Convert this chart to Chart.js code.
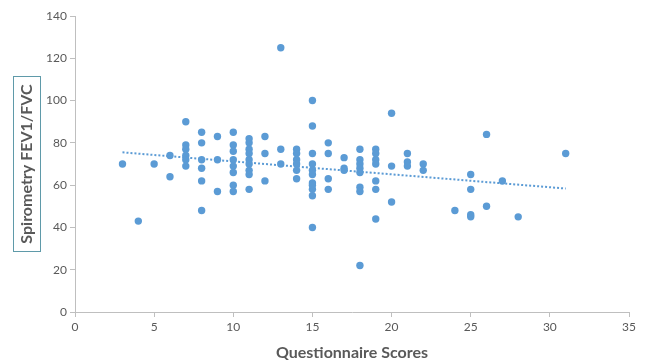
<!DOCTYPE html>
<html>
<head>
<meta charset="utf-8">
<script src="https://cdn.jsdelivr.net/npm/chart.js@4/dist/chart.umd.min.js"></script>
<style>
html,body{margin:0;padding:0;background:#fff;}
#wrap{width:645px;height:363px;}
</style>
</head>
<body>
<div id="wrap"><canvas id="c" width="645" height="363"></canvas></div>
<script>
// Questionnaire score (x) and Spirometry FEV1/FVC (y)
const scoreX = [
  3, 4, 5, 6, 6,
  7, 7, 7, 7, 7, 7,
  8, 8, 8, 8, 8, 8,
  9, 9, 9,
  10, 10, 10, 10, 10, 10, 10, 10,
  11, 11, 11, 11, 11, 11, 11, 11, 11,
  12, 12, 12,
  13, 13, 13,
  14, 14, 14, 14, 14, 14,
  15, 15, 15, 15, 15, 15, 15, 15, 15, 15, 15,
  16, 16, 16, 16,
  17, 17, 17,
  18, 18, 18, 18, 18, 18, 18, 18,
  19, 19, 19, 19, 19, 19, 19,
  20, 20, 20,
  21, 21, 21,
  22, 22,
  24,
  25, 25, 25, 25,
  26, 26,
  27, 28, 31
];
const fevY = [
  70, 43, 70, 74, 64,
  90, 79, 77, 74, 72, 69,
  85, 80, 72, 68, 62, 48,
  83, 72, 57,
  85, 79, 76, 72, 69, 66, 60, 57,
  82, 80, 77, 75, 72, 70, 67, 65, 58,
  83, 75, 62,
  125, 77, 70,
  77, 75, 72, 70, 67, 63,
  100, 88, 75, 70, 67, 65, 61, 58, 55, 40, 60,
  80, 75, 63, 58,
  73, 68, 67,
  77, 72, 70, 68, 66, 59, 57, 22,
  77, 75, 72, 70, 62, 58, 44,
  94, 69, 52,
  75, 71, 69,
  70, 67,
  48,
  65, 58, 46, 45,
  84, 50,
  62, 45, 75
];
// Linear trendline end points
const trendX = [3, 31];
const trendY = [75.5, 58.4];

const xTicks = [0, 5, 10, 15, 20, 25, 30, 35];
const yTicks = [0, 20, 40, 60, 80, 100, 120, 140];

const points = scoreX.map((x, i) => ({x: x, y: fevY[i]}));
const trend = trendX.map((x, i) => ({x: x, y: trendY[i]}));

const grey = '#595959';
const axisCol = '#bfbfbf';
const blue = '#5B9BD5';
const yTitle = 'Spirometry FEV1/FVC';

const boxPlugin = {
  id: 'ytitlebox',
  afterDraw(chart) {
    const ctx = chart.ctx;
    const ca = chart.chartArea;
    const cy = (ca.top + ca.bottom) / 2;
    ctx.save();
    ctx.font = 'bold 16px Lato';
    const w = ctx.measureText(yTitle).width;
    const h = w + 16;
    ctx.strokeStyle = '#5f9aa9';
    ctx.lineWidth = 1;
    ctx.strokeRect(13.5, Math.round(cy - h / 2) + 0.5, 27, Math.round(h));
    ctx.restore();
  }
};

new Chart(document.getElementById('c'), {
  type: 'scatter',
  data: {
    datasets: [
      {
        label: 'FEV1/FVC',
        data: points,
        backgroundColor: blue,
        borderColor: blue,
        pointRadius: 3.7,
        pointHoverRadius: 3.7,
        borderWidth: 0
      },
      {
        type: 'line',
        label: 'Trend',
        data: trend,
        borderColor: blue,
        borderWidth: 2,
        borderDash: [2, 2],
        pointRadius: 0,
        fill: false
      }
    ]
  },
  options: {
    responsive: false,
    animation: false,
    events: [],
    layout: {padding: {top: 16, right: 16, bottom: 0, left: 0}},
    plugins: {legend: {display: false}, tooltip: {enabled: false}},
    scales: {
      x: {
        type: 'linear',
        min: 0, max: 35,
        afterBuildTicks: s => { s.ticks = xTicks.map(v => ({value: v})); },
        afterFit: s => { s.height = 51; },
        grid: {display: true, drawOnChartArea: false, drawTicks: true, tickLength: 5, color: axisCol},
        border: {display: true, color: axisCol, width: 1},
        ticks: {color: grey, font: {family: 'Lato', size: 12}, padding: 3, maxRotation: 0},
        title: {display: true, text: 'Questionnaire Scores', color: grey,
                font: {family: 'Lato', size: 16, weight: 'bold'}, padding: {top: 4, bottom: 1}}
      },
      y: {
        type: 'linear',
        min: 0, max: 140,
        afterBuildTicks: s => { s.ticks = yTicks.map(v => ({value: v})); },
        afterFit: s => { s.width = 75; },
        grid: {display: true, drawOnChartArea: false, drawTicks: true, tickLength: 5, color: axisCol},
        border: {display: true, color: axisCol, width: 1},
        ticks: {color: grey, font: {family: 'Lato', size: 12}, padding: 3},
        title: {display: true, text: yTitle, color: grey,
                font: {family: 'Lato', size: 16, weight: 'bold'}, padding: {top: 17, bottom: 4}}
      }
    }
  },
  plugins: [boxPlugin]
});
</script>
</body>
</html>
